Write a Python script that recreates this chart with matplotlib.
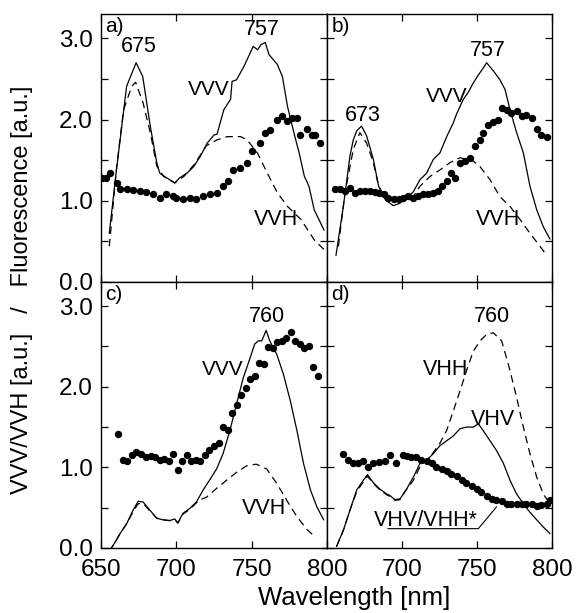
import numpy as np
import matplotlib
matplotlib.use("Agg")
from matplotlib import pyplot as plt
from matplotlib.ticker import MultipleLocator, FuncFormatter, FixedLocator

plt.rcParams['font.family'] = ['Liberation Sans', 'DejaVu Sans']

# panel a
a_vvv_x = [655.5, 660, 667, 673.3, 677.7, 682.7, 687, 689, 693.8, 699, 702, 707, 711.5, 716, 720.5, 725,
           727, 731.5, 736, 737, 740, 745, 749, 751, 754, 756, 759, 761.5, 767, 770.4, 773.8, 778, 781.5,
           785, 788, 791.5, 798]
a_vvv_y = [0.6, 1.34, 2.41, 2.70, 2.53, 1.92, 1.47, 1.34, 1.28, 1.22, 1.28, 1.34, 1.42, 1.55, 1.71, 1.81,
           1.82, 2.12, 2.25, 2.47, 2.49, 2.66, 2.82, 2.90, 2.86, 2.92, 2.95, 2.80, 2.68, 2.53, 2.16, 1.84, 1.59,
           1.30, 1.18, 0.89, 0.64]
a_vvh_x = [655.5, 660.4, 665, 670.4, 673, 678, 682.7, 687, 691.5, 699, 705, 712, 720, 727, 733.8, 742.7,
           747, 753.8, 760.4, 767, 773.8, 782.7, 791.5, 798]
a_vvh_y = [0.44, 1.42, 2.12, 2.41, 2.46, 2.2, 1.84, 1.43, 1.30, 1.22, 1.30, 1.45, 1.68, 1.75, 1.79, 1.79,
           1.75, 1.59, 1.34, 1.10, 0.93, 0.77, 0.52, 0.40]
a_dot_x = [650.4, 653, 656.3, 660.4, 662.7, 667, 671.3, 676, 680, 684.4, 689, 693.3, 698, 700, 704.4, 708.9,
           713.3, 717.8, 722.2, 726.7, 731, 734.4, 737.8, 742, 746.7, 750, 755.6, 758.9, 762, 766.7, 770,
           773.3, 776.7, 780, 782, 786.7, 790, 792, 795.6]
a_dot_y = [1.28, 1.28, 1.34, 1.22, 1.14, 1.14, 1.13, 1.12, 1.11, 1.08, 1.03, 1.08, 1.06, 1.03, 1.02, 1.03,
           1.02, 1.06, 1.08, 1.10, 1.18, 1.24, 1.38, 1.40, 1.46, 1.61, 1.71, 1.83, 1.87, 1.99, 2.04,
           1.98, 2.02, 2.02, 1.81, 1.89, 1.81, 1.81, 1.71]

# panel b
b_vvv_x = [656, 660.9, 665.3, 667.5, 669.8, 673, 676.4, 680.9, 684.4, 689, 694.2, 698.6, 703, 707.5, 712,
           716.4, 720.9, 725.3, 729.8, 734.2, 736.4, 740.9, 744, 747.5, 750.9, 754, 756.4, 760.9, 765.3,
           768.7, 772, 776.4, 780.9, 785.3, 789.8, 794.2, 798.6]
b_vvv_y = [0.33, 0.93, 1.55, 1.75, 1.86, 1.92, 1.80, 1.51, 1.18, 1.01, 0.94, 0.97, 1.03, 1.11, 1.26,
           1.34, 1.51, 1.59, 1.79, 1.96, 2.07, 2.25, 2.33, 2.45, 2.55, 2.63, 2.70, 2.60, 2.49,
           2.37, 2.12, 1.84, 1.59, 1.18, 0.89, 0.68, 0.53]
b_vvh_x = [657.6, 662, 667.5, 671.9, 676.4, 680.9, 684.4, 689, 694, 701, 707.5, 712, 718.7, 725.3, 732,
           738.7, 747.5, 752, 758.7, 765.3, 772, 778.7, 785.3, 792, 796.4]
b_vvh_y = [0.44, 1.10, 1.63, 1.84, 1.71, 1.47, 1.18, 1.03, 1.01, 1.01, 1.05, 1.18, 1.30, 1.38, 1.47,
           1.53, 1.49, 1.42, 1.26, 1.05, 0.93, 0.77, 0.60, 0.44, 0.33]
b_dot_x = [655.6, 658.9, 662, 665.3, 668.7, 672, 675.3, 678.7, 682, 684.4, 687.8, 691, 694.4, 697.8, 701,
           704.2, 707.5, 710.9, 714, 717.6, 720.9, 724, 726.4, 730, 733, 735.6, 739, 742, 745.3, 748.7,
           752, 754.2, 757.6, 760.9, 764.2, 766.4, 769.8, 773, 776.4, 779.8, 783, 786.4, 789.8, 793, 796.4]
b_dot_y = [1.14, 1.14, 1.12, 1.16, 1.10, 1.12, 1.12, 1.12, 1.11, 1.10, 1.08, 1.03, 1.02, 1.02, 1.03,
           1.06, 1.03, 1.06, 1.08, 1.08, 1.10, 1.12, 1.18, 1.24, 1.34, 1.28, 1.47, 1.49, 1.53, 1.67,
           1.75, 1.83, 1.93, 1.97, 1.99, 2.14, 2.12, 2.08, 2.10, 2.04, 2.06, 2.02, 1.89, 1.81, 1.79]

# panel c
c_vvv_x = [655.5, 659, 662.7, 667, 671.3, 674.7, 678, 682.4, 687, 691, 695.6, 699, 701, 704.4, 708.9,
           713.3, 717.8, 722, 726.7, 731, 735.6, 740, 744.4, 749, 752, 754.4, 756.7, 759.6, 762, 766.7,
           771, 775.6, 780, 784.4, 789, 793.3, 797.8]
c_vvv_y = [-0.04, 0.06, 0.18, 0.30, 0.47, 0.58, 0.57, 0.47, 0.37, 0.35, 0.34, 0.36, 0.31, 0.43, 0.49,
           0.57, 0.72, 0.84, 0.98, 1.17, 1.46, 1.79, 2.11, 2.36, 2.53, 2.57, 2.57, 2.70, 2.57, 2.40,
           2.16, 1.83, 1.46, 1.05, 0.72, 0.51, 0.35]
c_vvh_x = [655.5, 659, 662.7, 667, 671.3, 674.7, 678, 682.4, 687, 691, 695.6, 699, 701, 704.4, 708.9,
           713.3, 716, 720, 726.7, 733.3, 740, 746.7, 753, 760, 766.7, 773.3, 780, 786.7, 792]
c_vvh_y = [-0.04, 0.06, 0.18, 0.30, 0.45, 0.55, 0.55, 0.46, 0.37, 0.35, 0.34, 0.35, 0.31, 0.42, 0.48,
           0.56, 0.60, 0.63, 0.74, 0.84, 0.94, 1.02, 1.04, 0.98, 0.80, 0.59, 0.39, 0.23, 0.14]
c_dot_x = [661, 664.4, 667, 670.4, 673.3, 676.4, 680, 683, 686, 689, 692, 695, 698, 701, 704, 707, 710,
           713, 716, 719, 722, 725, 728, 731, 734, 737, 740, 743, 746, 749, 752, 755, 758, 761, 764,
           767, 770, 773, 776, 779, 782, 785, 788, 791, 794]
c_dot_y = [1.41, 1.09, 1.08, 1.15, 1.19, 1.17, 1.13, 1.14, 1.13, 1.09, 1.11, 1.08, 1.16, 0.97, 1.08,
           1.15, 1.08, 1.09, 1.08, 1.15, 1.21, 1.26, 1.30, 1.50, 1.46, 1.67, 1.77, 1.90, 1.98, 2.10,
           2.14, 2.30, 2.28, 2.49, 2.48, 2.55, 2.57, 2.60, 2.68, 2.57, 2.53, 2.48, 2.51, 2.25, 2.14]

# panel d
d_vhv_x = [656.4, 660.9, 665.3, 669.8, 674.2, 677, 680.9, 685.3, 689.8, 692, 695.3, 698.7, 703, 707.6,
           712, 716.4, 720.9, 725.3, 729.8, 734.2, 738.7, 743, 747.5, 750.9, 754, 758.7, 763, 767.6,
           772, 776.4, 780.9, 785, 789.8, 794.2, 798.6]
d_vhv_y = [0.02, 0.22, 0.47, 0.72, 0.84, 0.91, 0.81, 0.73, 0.67, 0.65, 0.60, 0.61, 0.73, 0.88,
           1.05, 1.09, 1.17, 1.27, 1.33, 1.39, 1.48, 1.50, 1.50, 1.54, 1.46, 1.33, 1.21, 1.05,
           0.84, 0.67, 0.55, 0.45, 0.35, 0.26, 0.18]
d_vhh_x = [656.4, 660.9, 665.3, 669.8, 674.2, 677, 680.9, 685.3, 689.8, 692, 695.3, 698.7, 702, 707.6,
           712, 718.7, 725.3, 729.8, 734.2, 738.7, 743, 747.5, 752, 756.4, 760.9, 766.4, 770.9, 776.4,
           780.9, 785.3, 789.8, 794.2, 798.6]
d_vhh_y = [0.02, 0.22, 0.47, 0.70, 0.82, 0.89, 0.80, 0.72, 0.66, 0.64, 0.59, 0.60, 0.70, 0.84,
           1.01, 1.13, 1.30, 1.46, 1.70, 1.95, 2.20, 2.44, 2.57, 2.65, 2.67, 2.57, 2.28, 1.87,
           1.50, 1.17, 0.88, 0.67, 0.55]
d_dot_x = [660.9, 664.2, 667.5, 670.8, 674, 677.4, 680.9, 685, 688.5, 692.3, 696.3, 700.7, 703.3, 706.3,
           709.6, 713, 716.4, 719.8, 723, 726.4, 729.8, 733, 736.4, 739.8, 743, 746.4, 749.8, 753,
           756.4, 759.8, 763, 766.4, 769.8, 773, 776.4, 779.8, 783, 786.4, 789.8, 793, 796.4, 799]
d_dot_y = [1.17, 1.09, 1.06, 1.06, 1.08, 1.01, 1.05, 1.07, 1.08, 1.15, 1.05, 1.15, 1.14, 1.13,
           1.13, 1.09, 1.08, 1.05, 1.01, 0.98, 0.95, 0.92, 0.89, 0.84, 0.81, 0.77, 0.73, 0.69,
           0.65, 0.61, 0.60, 0.58, 0.54, 0.54, 0.54, 0.54, 0.54, 0.54, 0.52, 0.53, 0.54, 0.60]

fig = plt.figure(figsize=(5.78, 6.13), dpi=100)
boxes = {
    'a': [101 / 578, 1 - 282 / 613, 226 / 578, 268 / 613],
    'b': [327 / 578, 1 - 282 / 613, 225 / 578, 268 / 613],
    'c': [101 / 578, 1 - 548 / 613, 226 / 578, 266 / 613],
    'd': [327 / 578, 1 - 548 / 613, 225 / 578, 266 / 613],
}
axes = {k: fig.add_axes(v) for k, v in boxes.items()}

solid = dict(color='black', lw=0.9)
dashed = dict(color='black', lw=0.9, dashes=(6, 4))
dots = dict(ls='none', marker='o', ms=4.3, color='black')
fs = 15.5

ax = axes['a']
ax.plot(a_vvv_x, a_vvv_y, **solid)
ax.plot(a_vvh_x, a_vvh_y, **dashed)
ax.plot(a_dot_x, a_dot_y, **dots)
ax.text(675, 2.83, '675', ha='center', fontsize=fs)
ax.text(757, 3.04, '757', ha='center', fontsize=fs)
ax.text(721.5, 2.3, 'VVV', ha='center', fontsize=15)
ax.text(766, 0.7, 'VVH', ha='center', fontsize=fs)

ax = axes['b']
ax.plot(b_vvv_x, b_vvv_y, **solid)
ax.plot(b_vvh_x, b_vvh_y, **dashed)
ax.plot(b_dot_x, b_dot_y, **dots)
ax.text(674, 1.98, '673', ha='center', fontsize=fs)
ax.text(757, 2.78, '757', ha='center', fontsize=fs)
ax.text(730, 2.22, 'VVV', ha='center', fontsize=15)
ax.text(764, 0.7, 'VVH', ha='center', fontsize=fs)

ax = axes['c']
ax.plot(c_vvv_x, c_vvv_y, **solid)
ax.plot(c_vvh_x, c_vvh_y, **dashed)
ax.plot(c_dot_x, c_dot_y, **dots)
ax.text(760, 2.8, '760', ha='center', fontsize=fs)
ax.text(731, 2.15, 'VVV', ha='center', fontsize=15)
ax.text(758, 0.42, 'VVH', ha='center', fontsize=fs)

ax = axes['d']
ax.plot(d_vhv_x, d_vhv_y, **solid)
ax.plot(d_vhh_x, d_vhh_y, **dashed)
ax.plot(d_dot_x, d_dot_y, **dots)
ax.text(760, 2.8, '760', ha='center', fontsize=fs)
ax.text(729, 2.15, 'VHH', ha='center', fontsize=fs)
ax.text(761, 1.52, 'VHV', ha='center', fontsize=fs)
ax.text(716, 0.27, 'VHV/VHH*', ha='center', fontsize=fs)
ax.plot([690.7, 750.9, 763], [0.24, 0.24, 0.51], color='black', lw=0.8)

for k, ax in axes.items():
    ax.set_xlim(650, 800)
    ax.set_ylim(0, 3.3)
    if k == 'd':
        ax.xaxis.set_major_locator(FixedLocator([700, 750, 800]))
        ax.xaxis.set_minor_locator(FixedLocator([650]))
    else:
        ax.xaxis.set_major_locator(MultipleLocator(50))
    ax.yaxis.set_major_locator(MultipleLocator(1.0))
    ax.yaxis.set_minor_locator(MultipleLocator(0.5))
    ax.yaxis.set_major_formatter(FuncFormatter(lambda v, p: f'{v:.1f}'))
    ax.tick_params(which='both', direction='in', top=True, right=True, length=5, width=0.9,
                   labelsize=17.5)
    ax.tick_params(axis='y', pad=6)
    ax.tick_params(axis='x', pad=8)
    for s in ax.spines.values():
        s.set_linewidth(1.0)
    if k in ('a', 'b'):
        ax.tick_params(labelbottom=False)
    if k in ('b', 'd'):
        ax.tick_params(labelleft=False)
    ax.text(0.02, 0.99, k + ')', transform=ax.transAxes, ha='left', va='top', fontsize=15)

fig.text(22 / 578, 1 - 290 / 613, 'VVV/VVH [a.u.]   /   Fluorescence [a.u.]', rotation=90,
         ha='center', va='center', fontsize=17)
fig.text(354 / 578, 1 - 598 / 613, 'Wavelength [nm]', ha='center', va='center', fontsize=18.5)

fig.savefig('out.png', dpi=100)
